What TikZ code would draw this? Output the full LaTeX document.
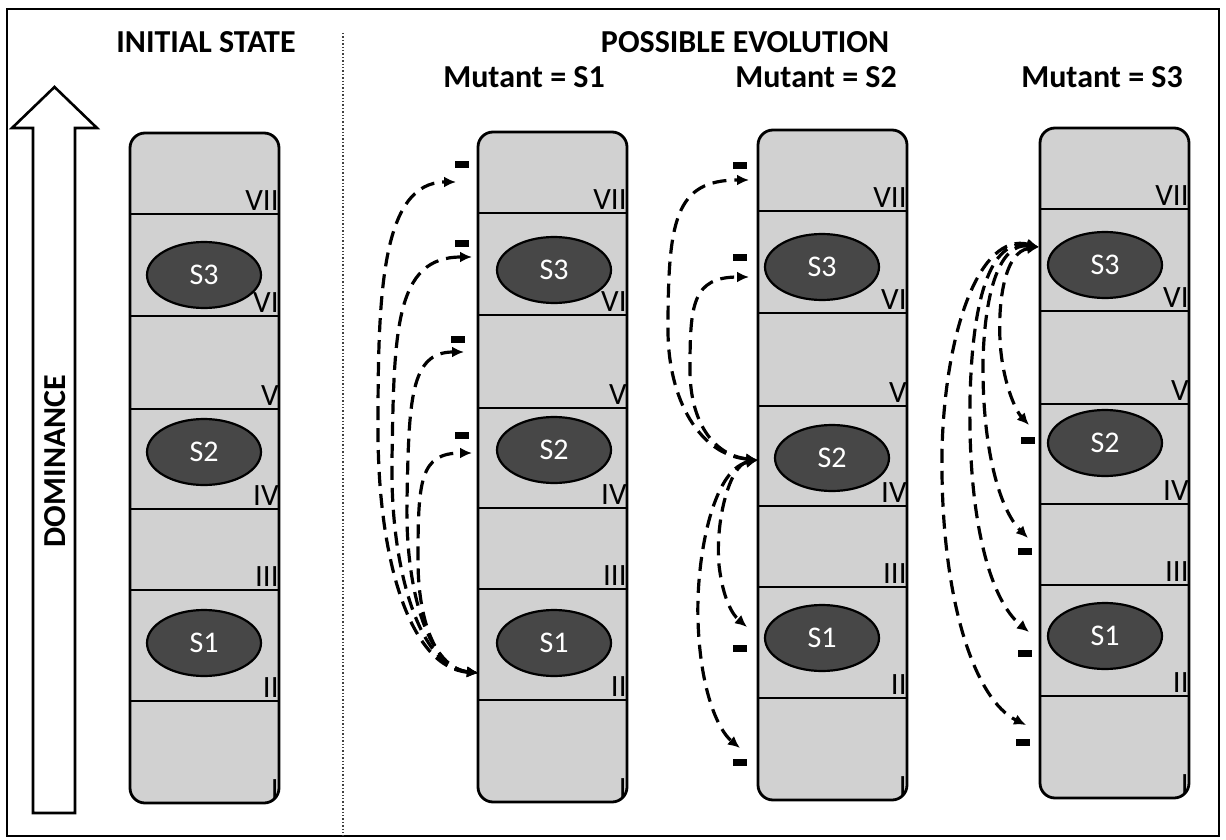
\documentclass[tikz,border=0pt]{standalone}
\usepackage{fontspec}
\setmainfont{Carlito}
\usetikzlibrary{shapes.geometric,arrows.meta}
\tikzset{
 colfill/.style={fill=black!18, rounded corners=7.5pt},
 colborder/.style={draw=black, line width=1.4pt, rounded corners=7.5pt},
 rowline/.style={draw=black, line width=1.4pt},
 numeral/.style={anchor=south east, inner sep=0pt, font=\fontsize{15.5}{15.5}\selectfont},
 sp/.style={ellipse, draw=black, line width=1.1pt, fill=black!72, text=white, minimum width=57pt, minimum height=33pt, inner sep=0pt, font=\fontsize{15}{15}\selectfont},
 dasharrow/.style={draw=black, line width=1.6pt, dash pattern=on 7pt off 4pt, {Latex[length=6pt,width=5.5pt]}-{Latex[length=6pt,width=5.5pt]}},
 minus/.style={fill=black, minimum width=7pt, minimum height=3.5pt, inner sep=0pt},
 title/.style={font=\fontsize{16}{16}\selectfont\bfseries, inner sep=0pt},
}
\newcommand\mycol[3]{%
  \path[colfill] (#2,130+#3) rectangle ++(149,670);
  \foreach \yy in {211,313,406,506,587,698} \draw[rowline] (#2,\yy+#3) -- ++(149,0);
  \foreach \yb/\lab/\k in {211/VII/7,313/VI/6,406/V/5,506/IV/4,587/III/3,698/II/2,800/I/1}
    \node[numeral] (#1r\k) at (#2+149,\yb+#3-3) {\lab};
  \draw[colborder] (#2,130+#3) rectangle ++(149,670);
}
\begin{document}
\begin{tikzpicture}[x=0.5pt,y=-0.5pt]
\useasboundingbox (0,0) rectangle (1226,840);
% frame and divider
\draw[line width=1.1pt] (7,9) rectangle (1219,836);
\draw[densely dotted, line width=0.7pt, black!75] (343,33) -- (343,836);
% titles
\node[title] (tinit) at (206,42) {INITIAL STATE};
\node[title] (tposs) at (745,42) {POSSIBLE EVOLUTION};
\node[title] (tm1) at (524,77) {Mutant = S1};
\node[title] (tm2) at (816,77) {Mutant = S2};
\node[title] (tm3) at (1102,77) {Mutant = S3};
% dominance arrow
\draw[line width=1.3pt, fill=white] (33,813) -- (33,128) -- (12,128) -- (54.5,87) -- (97,128) -- (75,128) -- (75,813) -- cycle;
\node[title, rotate=90] (dom) at (55,461) {DOMINANCE};
% columns
\mycol{a}{130}{3}
\mycol{b}{478}{2}
\mycol{c}{758}{0}
\mycol{d}{1040}{-2}
% species
\node[sp] (a3) at (204,275) {S3};
\node[sp] (a2) at (204,452) {S2};
\node[sp] (a1) at (204,643) {S1};
\node[sp] (b3) at (554,270) {S3};
\node[sp] (b2) at (554,450) {S2};
\node[sp] (b1) at (554,643) {S1};
\node[sp] (c3) at (822,267) {S3};
\node[sp] (c2) at (832,458) {S2};
\node[sp] (c1) at (822,638) {S1};
\node[sp] (d3) at (1105,265) {S3};
\node[sp] (d2) at (1105,443) {S2};
\node[sp] (d1) at (1105,636) {S1};
% ---- Mutant S1 ----
\coordinate (bs) at (479,673);
\coordinate (bt7) at (456,182);
\coordinate (bt6) at (472,257);
\coordinate (bt5) at (464,352);
\coordinate (bt4) at (472,453);
\node[minus] (bm7) at (462,164) {};
\node[minus] (bm6) at (462,243) {};
\node[minus] (bm5) at (458,339) {};
\node[minus] (bm4) at (462,435) {};
\draw[dasharrow] (bs) .. controls (410,668) and (378,560) .. (378,430) .. controls (378,300) and (380,182) .. (bt7);
\draw[dasharrow] (bs) .. controls (420,668) and (390,570) .. (392,460) .. controls (394,330) and (395,257) .. (bt6);
\draw[dasharrow] (bs) .. controls (428,668) and (405,590) .. (407,500) .. controls (409,400) and (410,352) .. (bt5);
\draw[dasharrow] (bs) .. controls (435,668) and (418,620) .. (418,560) .. controls (418,480) and (420,453) .. (bt4);
% ---- Mutant S2 ----
\coordinate (cs) at (758,460);
\coordinate (ct7) at (749,180);
\coordinate (ct6) at (749,277);
\coordinate (ct2) at (747,627);
\coordinate (ct1) at (740,748);
\node[minus] (cm7) at (740,165) {};
\node[minus] (cm6) at (740,257) {};
\node[minus] (cm2) at (740,648) {};
\node[minus] (cm1) at (740,762) {};
\draw[dasharrow] (cs) .. controls (700,455) and (668,400) .. (668,330) .. controls (668,220) and (675,180) .. (ct7);
\draw[dasharrow] (cs) .. controls (712,455) and (690,420) .. (690,370) .. controls (690,305) and (692,277) .. (ct6);
\draw[dasharrow] (cs) .. controls (730,465) and (715,520) .. (719,565) .. controls (723,600) and (733,615) .. (ct2);
\draw[dasharrow] (cs) .. controls (712,470) and (696,560) .. (698,620) .. controls (700,690) and (718,730) .. (ct1);
% ---- Mutant S3 ----
\coordinate (ds) at (1039,247);
\coordinate (dt5) at (1029,425);
\coordinate (dt3) at (1028,538);
\coordinate (dt2) at (1029,632);
\coordinate (dt1) at (1026,725);
\node[minus] (dm5) at (1028,440) {};
\node[minus] (dm3) at (1025,551) {};
\node[minus] (dm2) at (1025,653) {};
\node[minus] (dm1) at (1023,742) {};
\draw[dasharrow] (ds) .. controls (1005,252) and (998,300) .. (1000,340) .. controls (1002,380) and (1015,410) .. (dt5);
\draw[dasharrow] (ds) .. controls (1000,243) and (985,290) .. (983,360) .. controls (982,450) and (1000,510) .. (dt3);
\draw[dasharrow] (ds) .. controls (990,238) and (972,300) .. (970,400) .. controls (968,520) and (990,600) .. (dt2);
\draw[dasharrow] (ds) .. controls (980,232) and (945,330) .. (942,450) .. controls (940,600) and (975,700) .. (dt1);
\end{tikzpicture}
\end{document}
